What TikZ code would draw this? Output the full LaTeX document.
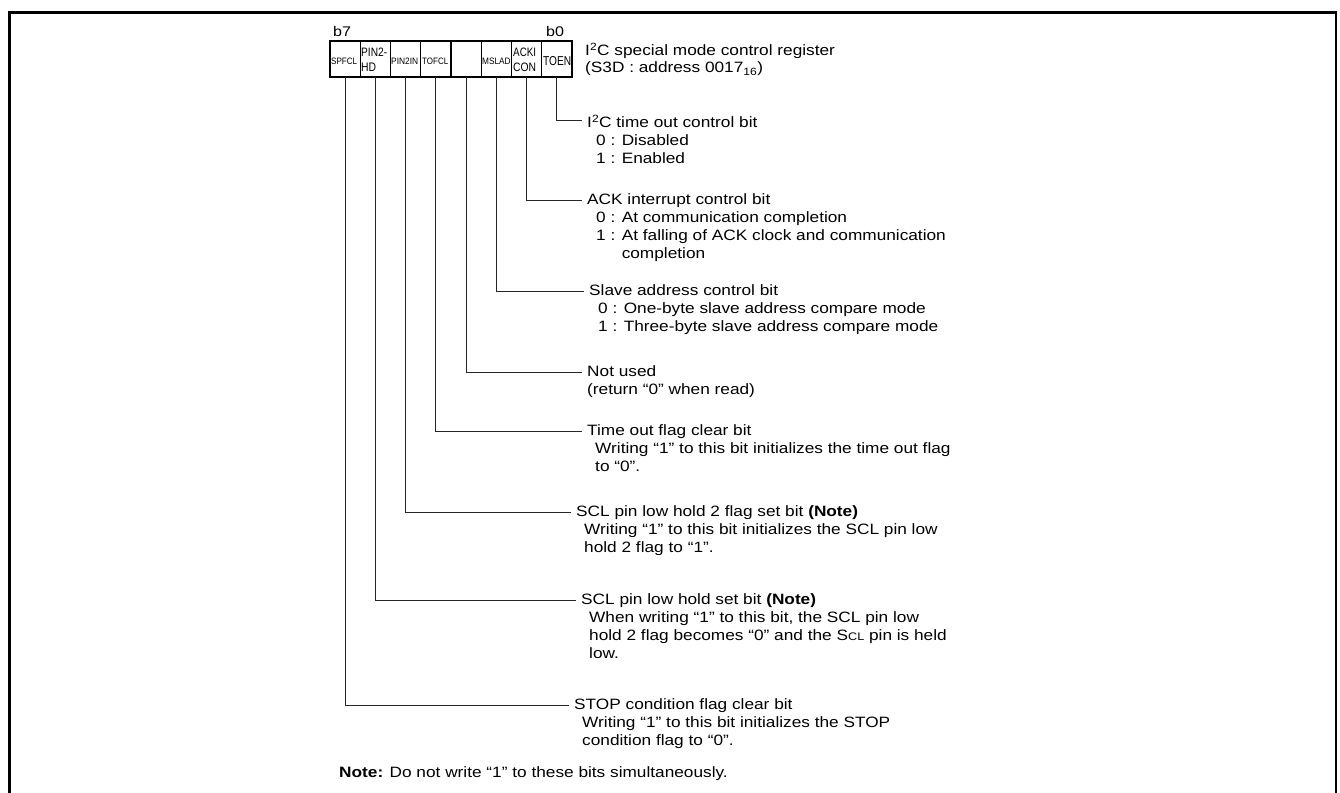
\documentclass[tikz,border=0pt]{standalone}
\usepackage{fontspec}
\setmainfont{Liberation Sans}[FakeStretch=1.15]
\usetikzlibrary{positioning}

\newcommand{\subind}{\hspace*{9pt}}
\newcommand{\wrind}{\hspace*{8pt}}
\newcommand{\bitname}[3]{\resizebox{#1pt}{#2pt}{#3}}

\tikzset{
  regcell/.style={draw, line width=1.4pt, minimum width=30.25pt, minimum height=36pt, inner sep=0pt, outer sep=0pt},
  bitlab/.style={anchor=west, inner sep=0pt},
  lead/.style={line width=1pt, draw=black!85},
  desc/.style={anchor=north west, inner sep=0pt, align=left, font=\fontsize{15}{18}\selectfont},
}

\begin{document}
\begin{tikzpicture}[x=1pt, y=-1pt]
  \useasboundingbox (0,0) rectangle (1340,792);

  % frame
  \draw[line width=2.5pt] (9.5,800) -- (9.5,12.5) -- (1336,12.5) -- (1336,800);

  % register
  \foreach \i in {1,...,8}
    \node[regcell] (c\i) at ({330+30.25*(\i-0.5)},59) {};

  \node[anchor=base west, inner sep=0pt, font=\fontsize{14}{14}\selectfont] (b7) at (333,37) {b7};
  \node[anchor=base west, inner sep=0pt, font=\fontsize{14}{14}\selectfont] (b0) at (546,37) {b0};

  \node[bitlab] (n1) at (331,61.5) {\bitname{26}{6.5}{SPFCL}};
  \node[bitlab] (n2a) at (361,52) {\bitname{26}{8.5}{PIN2-}};
  \node[bitlab] (n2b) at (361,67) {\bitname{15}{8.5}{HD}};
  \node[bitlab] (n3) at (391,61.5) {\bitname{27}{6.5}{PIN2IN}};
  \node[bitlab] (n4) at (422,61.5) {\bitname{26}{6.5}{TOFCL}};
  \node[bitlab] (n6) at (482,61.5) {\bitname{28.5}{6.5}{MSLAD}};
  \node[bitlab] (n7a) at (513,52) {\bitname{23}{8.5}{ACKI}};
  \node[bitlab] (n7b) at (513,67) {\bitname{23}{8.5}{CON}};
  \node[bitlab] (n8) at (543,61) {\bitname{28}{9}{TOEN}};

  \node[desc, font=\fontsize{15}{17}\selectfont] (title) at (585,43)
    {I\textsuperscript{2}C special mode control register\\(S3D : address 0017\textsubscript{16})};

  % leader ends
  \coordinate (e8) at (582,120);
  \coordinate (e7) at (582,200);
  \coordinate (e6) at (584,291);
  \coordinate (e5) at (582,372);
  \coordinate (e4) at (582,431);
  \coordinate (e3) at (571,512);
  \coordinate (e2) at (576,600);
  \coordinate (e1) at (569,705);

  \foreach \i in {1,...,8}
    \draw[lead] (c\i.south) |- (e\i);

  \node[desc] (t8) at ([xshift=5pt,yshift=5pt]e8)
    {I\textsuperscript{2}C time out control bit\\\subind 0 : Disabled\\\subind 1 : Enabled};
  \node[desc] (t7) at ([xshift=5pt,yshift=6.5pt]e7)
    {ACK interrupt control bit\\\subind 0 : At communication completion\\\subind 1 : At falling of ACK clock and communication\\\subind\hphantom{1 : }completion};
  \node[desc] (t6) at ([xshift=5pt,yshift=6.5pt]e6)
    {Slave address control bit\\\subind 0 : One-byte slave address compare mode\\\subind 1 : Three-byte slave address compare mode};
  \node[desc] (t5) at ([xshift=5pt,yshift=6.5pt]e5)
    {Not used\\(return “0” when read)};
  \node[desc] (t4) at ([xshift=5pt,yshift=6.5pt]e4)
    {Time out flag clear bit\\\wrind Writing “1” to this bit initializes the time out flag\\\wrind to “0”.};
  \node[desc] (t3) at ([xshift=5pt,yshift=6.5pt]e3)
    {SCL pin low hold 2 flag set bit \textbf{(Note)}\\\wrind Writing “1” to this bit initializes the SCL pin low\\\wrind hold 2 flag to “1”.};
  \node[desc] (t2) at ([xshift=5pt,yshift=6.5pt]e2)
    {SCL pin low hold set bit \textbf{(Note)}\\\wrind When writing “1” to this bit, the SCL pin low\\\wrind hold 2 flag becomes “0” and the S{\fontsize{11}{11}\selectfont CL} pin is held\\\wrind low.};
  \node[desc] (t1) at ([xshift=5pt,yshift=6.5pt]e1)
    {STOP condition flag clear bit\\\wrind Writing “1” to this bit initializes the STOP\\\wrind condition flag to “0”.};

  \node[desc] (note) at (339,766) {\textbf{Note:} Do not write “1” to these bits simultaneously.};
\end{tikzpicture}
\end{document}
